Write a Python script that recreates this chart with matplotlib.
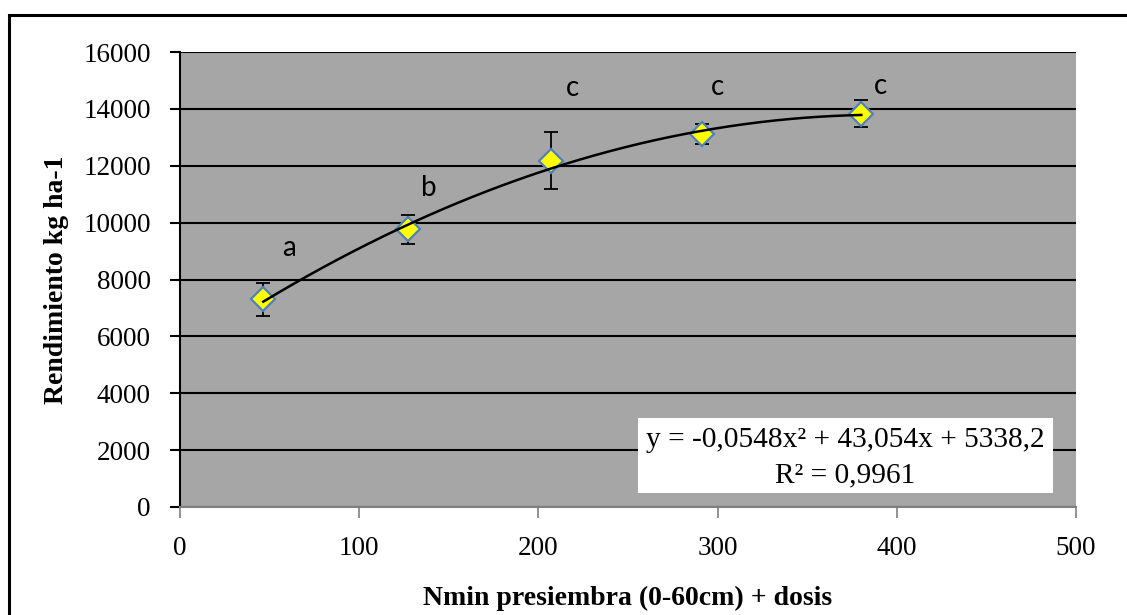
import numpy as np
import matplotlib.pyplot as plt
from matplotlib.patches import Rectangle

# datos
nmin = [46.5, 127.4, 206.9, 291.5, 380.2]
rendimiento = [7310, 9760, 12180, 13120, 13830]
error = [580, 495, 1015, 365, 480]
letras = ['a', 'b', 'c', 'c', 'c']
letra_x = [60.6, 139, 219, 300, 391]
letra_y = [9120, 11230, 14740, 14760, 14810]
coef = [-0.0548, 43.054, 5338.2]
ecuacion = ['y = -0,0548x² + 43,054x + 5338,2', 'R² = 0,9961']

plt.rcParams['font.family'] = ['Liberation Serif', 'DejaVu Serif']

fig = plt.figure(figsize=(11.27, 6.15), dpi=100)
fig.patches.append(Rectangle((9 / 1127, -0.1), 1.2, 1.1 - 15 / 615, transform=fig.transFigure,
                             fill=False, edgecolor='black', linewidth=2.2))
ax = fig.add_axes([180 / 1127, 1 - 507 / 615, (1076 - 180) / 1127, (507 - 52) / 615])
ax.set_facecolor('#A6A6A6')

ax.set_xlim(0, 500)
ax.set_ylim(0, 16000)
ax.set_xticks(np.arange(0, 501, 100))
ax.set_yticks(np.arange(0, 16001, 2000))
ax.yaxis.grid(True, color='black', linewidth=1.5)
ax.set_axisbelow(True)

for s in ['top', 'right']:
    ax.spines[s].set_visible(False)
ax.spines['left'].set_linewidth(1.5)
ax.spines['bottom'].set_color('#808080')
ax.spines['bottom'].set_linewidth(1.5)
ax.tick_params(axis='y', direction='out', length=7, width=1.5, pad=14, labelsize=19.5)
ax.tick_params(axis='x', direction='out', length=8, width=1.2, color='#808080', pad=13, labelsize=19.5)

# barras de error y puntos
ax.errorbar(nmin, rendimiento, yerr=error, fmt='none', ecolor='black', elinewidth=1.3,
            capsize=4.8, capthick=1.3, zorder=3)
ax.plot(nmin, rendimiento, 'D', markersize=12, markerfacecolor='#FFFF00',
        markeredgecolor='#4F81BD', markeredgewidth=1.6, linestyle='none', zorder=4)

# linea de tendencia
xs = np.linspace(nmin[0], nmin[-1], 200)
ax.plot(xs, np.polyval(coef, xs), color='black', linewidth=1.8, zorder=5)

for l, lx, ly in zip(letras, letra_x, letra_y):
    ax.text(lx, ly, l, fontsize=20, family=['Lato', 'DejaVu Sans'], ha='center', va='center', zorder=6)

# cuadro de la ecuacion
ax.add_patch(Rectangle((0.5112, 0.0308), 0.4631, 0.1648, transform=ax.transAxes,
                       facecolor='white', edgecolor='none', zorder=6))
ax.text(0.7427, 0.1473, ecuacion[0], transform=ax.transAxes, fontsize=21.2, ha='center', va='center', zorder=7)
ax.text(0.7427, 0.0703, ecuacion[1], transform=ax.transAxes, fontsize=21.2, ha='center', va='center', zorder=7)

ax.set_xlabel('Nmin presiembra (0-60cm) + dosis', fontsize=20, fontweight='bold', labelpad=18)
ax.set_ylabel('Rendimiento kg ha-1', fontsize=20, fontweight='bold', labelpad=10)

plt.savefig('out.png', dpi=100)
